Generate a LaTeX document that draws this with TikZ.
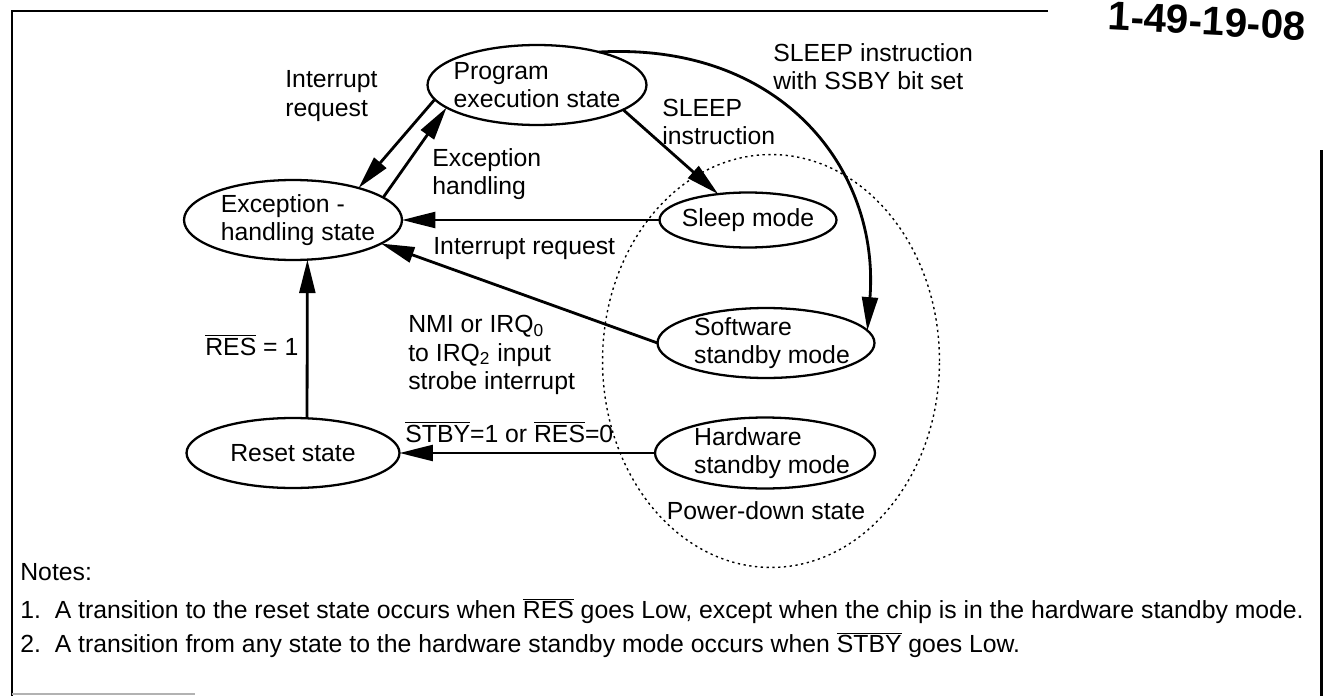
\documentclass[tikz,border=0pt]{standalone}
\usepackage{fontspec}
\setmainfont{Liberation Sans}
\usetikzlibrary{arrows.meta, shapes.geometric}
\newcommand{\ovl}[1]{$\overline{\mbox{#1}}$}

\begin{document}
\begin{tikzpicture}[
  x=0.02cm, y=-0.02cm,
  state/.style={ellipse, draw, line width=1.3pt, inner sep=0pt, outer sep=0pt},
  txt/.style={align=left, inner sep=0pt, font=\fontsize{14.1}{16}\selectfont},
  arrow/.style={-{Triangle[length=19pt, width=9pt]}, line width=1.6pt},
  frame/.style={line width=1.7pt}
]
  \useasboundingbox (0,0) rectangle (1325,696);
  \draw[frame] (1048,11) -- (12,11) -- (12,696);
  \draw[frame] (1321,150) -- (1321,696);
  \draw[gray!60, line width=1pt] (12,694) -- (195,694);
  \node[anchor=west, inner sep=0pt, rotate=-3, font=\fontsize{23}{23}\bfseries]
    (stamp) at (1108,16) {1-49-19-08};

  \node[state, dotted, line width=0.8pt, minimum width=6.74cm, minimum height=8.26cm] (pdown) at (771,361) {};
  \node[txt] (pdown-t) at (766,511) {Power-down state};

  \node[state, minimum width=4.38cm, minimum height=1.6cm] (prog) at (537,85) {};
  \node[txt] (prog-t) at (prog) {Program\\execution state};
  \node[state, minimum width=4.36cm, minimum height=1.6cm] (exc) at (293,220) {};
  \node[txt] (exc-t) at (298,220) {Exception -\\handling state};
  \node[state, minimum width=3.54cm, minimum height=1.1cm] (sleep) at (748,220) {};
  \node[txt] (sleep-t) at (sleep) {Sleep mode};
  \node[state, minimum width=4.34cm, minimum height=1.4cm] (soft) at (766,343) {};
  \node[txt] (soft-t) at (772,343) {Software\\standby mode};
  \node[state, minimum width=4.4cm, minimum height=1.42cm] (hard) at (765,453) {};
  \node[txt] (hard-t) at (772,453) {Hardware\\standby mode};
  \node[state, minimum width=4.26cm, minimum height=1.4cm] (reset) at (293,453) {};
  \node[txt] (reset-t) at (reset) {Reset state};

  \draw[arrow] (prog.188) -- (exc.26);
  \draw[arrow] (exc.14) -- (prog.194);
  \draw[arrow] (prog.-16.5) -- (sleep.139);
  \draw[arrow] (prog.28) .. controls (782,42) and (880,170) .. (soft.7);
  \draw[arrow] (sleep.west) -- (exc.east);
  \draw[arrow] (soft.west) -- (exc.-15);
  \draw[arrow] (hard.west) -- (reset.east);
  \draw[arrow] (reset.68) -- (exc.-70.6);

  \node[txt, anchor=west] (l-int1) at (285,96) {Interrupt\\request};
  \node[txt, anchor=west] (l-exch) at (432,174) {Exception\\handling};
  \node[txt, anchor=west] (l-sleep) at (662,122) {SLEEP\\instruction};
  \node[txt, anchor=west] (l-ssby) at (773,67) {SLEEP instruction\\with SSBY bit set};
  \node[txt, anchor=west] (l-int2) at (433,249) {Interrupt request};
  \node[txt, anchor=west] (l-nmi) at (408,355)
    {NMI or IRQ\textsubscript{0}\\to IRQ\textsubscript{2} input\\strobe interrupt};
  \node[txt, anchor=west] (l-stby) at (405,432) {\ovl{STBY}=1 or \ovl{RES}=0};
  \node[txt, anchor=west] (l-res) at (205,345) {\ovl{RES} = 1};

  \node[txt, anchor=west] (notes) at (20,572) {Notes:};
  \node[txt, anchor=west] (note1) at (20,611)
    {1.\ \ A transition to the reset state occurs when \ovl{RES} goes Low, except when the chip is in the hardware standby mode.};
  \node[txt, anchor=west] (note2) at (20,645)
    {2.\ \ A transition from any state to the hardware standby mode occurs when \ovl{STBY} goes Low.};
\end{tikzpicture}
\end{document}
